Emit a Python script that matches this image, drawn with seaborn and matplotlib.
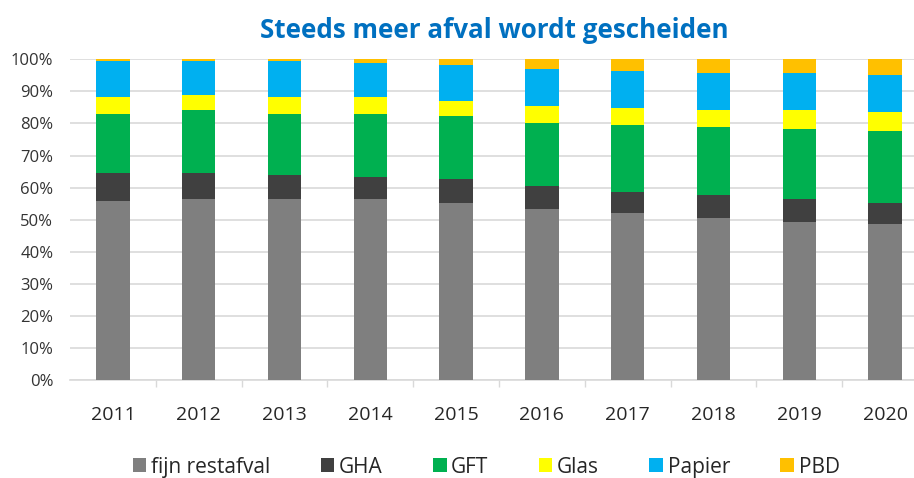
import matplotlib
matplotlib.use("Agg")
import matplotlib.pyplot as plt
import seaborn as sns
import pandas as pd
import numpy as np
from matplotlib.patches import Patch
from matplotlib.ticker import FixedLocator

years = ["2011", "2012", "2013", "2014", "2015", "2016", "2017", "2018", "2019", "2020"]
fijn_restafval = [55.9, 56.5, 56.5, 56.5, 55.2, 53.2, 52.0, 50.5, 49.2, 48.6]
gha = [8.7, 8.1, 7.4, 6.8, 7.4, 7.4, 6.6, 7.2, 7.2, 6.5]
gft = [18.2, 19.6, 18.9, 19.5, 19.6, 19.5, 20.8, 21.1, 21.8, 22.4]
glas = [5.4, 4.7, 5.4, 5.4, 4.7, 5.4, 5.5, 5.4, 6.0, 6.1]
papier = [11.4, 10.7, 11.4, 10.7, 11.3, 11.5, 11.5, 11.6, 11.6, 11.6]
pbd = [0.4, 0.4, 0.4, 1.1, 1.8, 3.0, 3.6, 4.2, 4.2, 4.8]

series_names = ["fijn restafval", "GHA", "GFT", "Glas", "Papier", "PBD"]
series_colors = ["#7F7F7F", "#404040", "#00B050", "#FFFF00", "#00B0F0", "#FFC000"]
y_ticks = [0, 10, 20, 30, 40, 50, 60, 70, 80, 90, 100]
title = "Steeds meer afval wordt gescheiden"

sns.set_theme(style="white")
plt.rcParams["font.family"] = ["Open Sans", "DejaVu Sans"]

df = pd.DataFrame({"year": years, "fijn restafval": fijn_restafval, "GHA": gha,
                   "GFT": gft, "Glas": glas, "Papier": papier, "PBD": pbd})
cum = df[series_names].cumsum(axis=1)

fig = plt.figure(figsize=(9.14, 4.78), dpi=100)
ax = fig.add_axes([70 / 914, 1 - 380 / 478, 1 - 70 / 914, (380 - 59.3) / 478])

# draw cumulative totals from top layer down so each layer shows its own segment
for name, color in reversed(list(zip(series_names, series_colors))):
    sns.barplot(x=df["year"], y=cum[name], color=color, saturation=1,
                width=0.39, ax=ax, linewidth=0, zorder=3)

ax.set_xlim(-0.5, -0.5 + 844 / 85.8)
ax.set_ylim(0, 100)
ax.set_yticks(y_ticks)
ax.set_yticklabels([f"{t}%" for t in y_ticks])
ax.set_xlabel("")
ax.set_ylabel("")
ax.grid(axis="y", color="#D9D9D9", linewidth=1.2, zorder=0)
ax.grid(axis="x", visible=False)
for s in ["top", "right", "left"]:
    ax.spines[s].set_visible(False)
ax.spines["bottom"].set_color("#D9D9D9")
ax.spines["bottom"].set_linewidth(1.2)
ax.tick_params(axis="y", length=0, pad=12, labelsize=12, labelcolor="#333333")
ax.tick_params(axis="x", which="major", length=0, pad=19, labelsize=14, labelcolor="#262626")
ax.xaxis.set_minor_locator(FixedLocator(np.arange(0.5, 9.5, 1.0)))
ax.tick_params(axis="x", which="minor", length=5, width=1, color="#D9D9D9", direction="out", bottom=True)

handles = [Patch(facecolor=c, edgecolor="none", label=n) for n, c in zip(series_names, series_colors)]
fig.legend(handles=handles, loc="center", bbox_to_anchor=(0.532, 0.023), ncol=6,
           frameon=False, fontsize=15, handlelength=0.65, handleheight=0.65,
           handletextpad=0.22, columnspacing=2.42, labelcolor="#262626")

fig.text(0.541, 1 - 31 / 478, title, ha="center", va="center", fontsize=18.7,
         fontweight="bold", color="#0070C0")

fig.savefig("out.png", dpi=100)
